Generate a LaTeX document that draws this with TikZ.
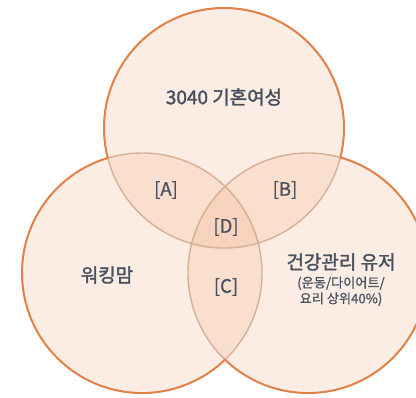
\documentclass[tikz,border=0pt]{standalone}
\usepackage{fontspec}
\newfontfamily\krfont{Noto Sans CJK KR}[FakeBold=1.8]
\newfontfamily\krareafont{Noto Sans CJK KR}[FakeBold=0.8]
\newfontfamily\krsubfont{Noto Sans CJK KR}[FakeBold=0.8]
\usepackage{xcolor}
\usepackage{tikz}
\usetikzlibrary{positioning}
\definecolor{vennfill}{RGB}{240,165,120}
\definecolor{vennline}{RGB}{226,128,70}
\definecolor{vennin}{RGB}{215,175,145}
\definecolor{labeltext}{RGB}{72,80,96}
\tikzset{
    setfill/.style={
        fill=vennfill,
        fill opacity=0.2
    },
    setline/.style={
        draw=vennline,
        line width=1.1pt
    },
    innerline/.style={
        draw=vennin,
        line width=0.8pt
    },
    setlabel/.style={
        text=labeltext,
        font=\krfont\fontsize{10.8}{12}\selectfont,
        align=center,
        inner sep=1pt
    },
    arealabel/.style={
        text=labeltext,
        font=\krareafont\fontsize{10.5}{12}\selectfont,
        inner sep=1pt
    },
    sublabel/.style={
        text=labeltext,
        font=\krsubfont\fontsize{7.5}{9}\selectfont,
        align=center,
        inner sep=1pt
    }
}

\begin{document}
\begin{tikzpicture}[x=0.02cm, y=-0.02cm]
\useasboundingbox (0,0) rectangle (416,397);

% Circle centres
\coordinate (ctop) at (224,128);
\coordinate (cleft) at (142,273);
\coordinate (cright) at (308,273);
\def\rad{120}

% Fills
\fill[setfill] (ctop) circle (\rad);
\fill[setfill] (cleft) circle (\rad);
\fill[setfill] (cright) circle (\rad);

% Inner arcs (light)
\draw[innerline] (ctop) circle (\rad);
\draw[innerline] (cleft) circle (\rad);
\draw[innerline] (cright) circle (\rad);

% Outer arcs (strong)
\begin{scope}[even odd rule]
\clip (-20,-20) rectangle (440,420) (cleft) circle (\rad);
\clip (-20,-20) rectangle (440,420) (cright) circle (\rad);
\draw[setline] (ctop) circle (\rad);
\end{scope}
\begin{scope}[even odd rule]
\clip (-20,-20) rectangle (440,420) (ctop) circle (\rad);
\clip (-20,-20) rectangle (440,420) (cright) circle (\rad);
\draw[setline] (cleft) circle (\rad);
\end{scope}
\begin{scope}[even odd rule]
\clip (-20,-20) rectangle (440,420) (ctop) circle (\rad);
\clip (-20,-20) rectangle (440,420) (cleft) circle (\rad);
\draw[setline] (cright) circle (\rad);
\end{scope}

% Set labels
\node[setlabel] (married) at (224,97) {3040 기혼여성};
\node[setlabel] (workmom) at (107,275) {워킹맘};
\node[setlabel] (health) at (341,262) {건강관리 유저};
\node[sublabel, below=1pt of health] (healthsub) {(운동/다이어트/\\요리 상위40\%)};

% Overlap labels
\node[arealabel] (areaA) at (166,190) {[A]};
\node[arealabel] (areaB) at (285,190) {[B]};
\node[arealabel] (areaD) at (226,227) {[D]};
\node[arealabel] (areaC) at (226,287) {[C]};

\end{tikzpicture}
\end{document}
